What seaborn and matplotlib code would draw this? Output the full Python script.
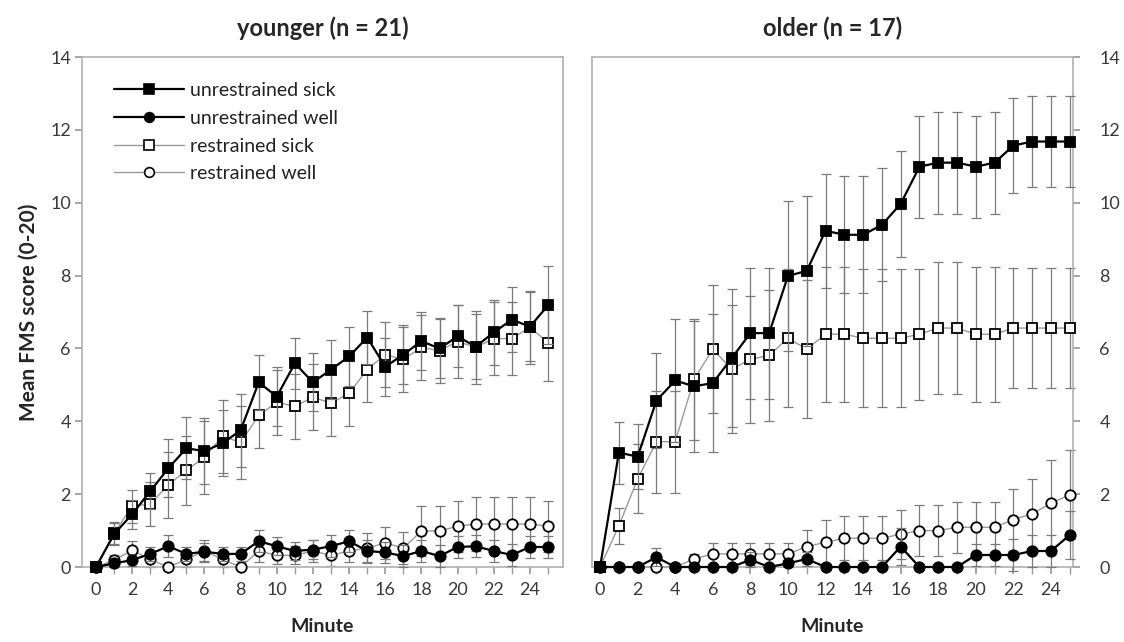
import numpy as np
import pandas as pd
import seaborn as sns
import matplotlib
matplotlib.use("Agg")
import matplotlib.pyplot as plt
from matplotlib.lines import Line2D

# ---------------- data ----------------
minutes = list(range(26))

# younger (n = 21)
y_unres_sick = [0, 0.9, 1.45, 2.08, 2.71, 3.26, 3.18, 3.4, 3.75, 5.07, 4.68, 5.59, 5.07, 5.42, 5.78, 6.3,
                5.5, 5.83, 6.2, 6.0, 6.33, 6.05, 6.44, 6.79, 6.6, 7.18]
y_unres_sick_err = [0, 0.3, 0.4, 0.5, 0.8, 0.85, 0.9, 0.9, 1.0, 0.75, 0.8, 0.7, 0.8, 0.8, 0.8, 0.74,
                    0.8, 0.8, 0.8, 0.8, 0.85, 0.9, 0.9, 0.9, 0.95, 1.07]
y_unres_well = [0, 0.1, 0.19, 0.36, 0.57, 0.36, 0.42, 0.36, 0.36, 0.71, 0.57, 0.44, 0.48, 0.57, 0.71, 0.44,
                0.4, 0.3, 0.44, 0.3, 0.55, 0.57, 0.44, 0.33, 0.55, 0.55]
y_unres_well_err = [0, 0.1, 0.15, 0.2, 0.3, 0.2, 0.25, 0.2, 0.2, 0.3, 0.25, 0.25, 0.25, 0.3, 0.3, 0.3,
                    0.3, 0.3, 0.3, 0.3, 0.3, 0.3, 0.3, 0.3, 0.3, 0.3]
y_res_sick = [0, 0.93, 1.67, 1.73, 2.25, 2.66, 3.01, 3.59, 3.42, 4.16, 4.52, 4.41, 4.66, 4.5, 4.77, 5.42,
              5.83, 5.7, 6.03, 5.94, 6.19, 6.03, 6.27, 6.27, 6.58, 6.16]
y_res_sick_err = [0, 0.3, 0.45, 0.6, 0.9, 0.95, 1.0, 1.0, 1.0, 0.9, 0.9, 0.9, 0.9, 0.9, 0.9, 0.9,
                  0.9, 0.9, 0.9, 0.9, 1.0, 1.0, 1.0, 1.0, 1.0, 1.05]
y_res_well = [0, 0.19, 0.46, 0.21, 0.0, 0.21, 0.44, 0.21, 0.0, 0.44, 0.32, 0.32, 0.44, 0.32, 0.44, 0.52,
              0.66, 0.52, 0.99, 0.99, 1.12, 1.18, 1.18, 1.18, 1.18, 1.12]
y_res_well_err = [0, 0.15, 0.25, 0.2, 0.0, 0.2, 0.3, 0.2, 0.0, 0.3, 0.25, 0.25, 0.3, 0.3, 0.3, 0.4,
                  0.45, 0.45, 0.68, 0.68, 0.7, 0.75, 0.75, 0.75, 0.75, 0.7]

# older (n = 17)
o_unres_sick = [0, 3.14, 3.03, 4.57, 5.12, 4.96, 5.05, 5.73, 6.42, 6.42, 7.99, 8.13, 9.23, 9.12, 9.12, 9.39,
                9.97, 10.99, 11.1, 11.1, 10.99, 11.1, 11.57, 11.68, 11.68, 11.68]
o_unres_sick_err = [0, 0.85, 0.9, 1.3, 1.7, 1.8, 1.9, 1.9, 1.8, 1.8, 2.05, 2.05, 1.57, 1.6, 1.6, 1.55,
                    1.45, 1.4, 1.4, 1.4, 1.4, 1.4, 1.3, 1.25, 1.25, 1.25]
o_unres_well = [0, 0, 0, 0.27, 0, 0, 0, 0, 0.2, 0, 0.1, 0.22, 0, 0, 0, 0,
                0.56, 0, 0, 0, 0.33, 0.33, 0.33, 0.44, 0.44, 0.88]
o_unres_well_err = [0, 0, 0, 0.25, 0, 0, 0, 0, 0.2, 0, 0.1, 0.2, 0, 0, 0, 0,
                    0.5, 0, 0, 0, 0.3, 0.3, 0.45, 0.45, 0.45, 0.65]
o_res_sick = [0, 1.13, 2.42, 3.44, 3.44, 5.15, 5.98, 5.43, 5.7, 5.81, 6.28, 5.98, 6.39, 6.39, 6.28, 6.28,
              6.28, 6.39, 6.56, 6.56, 6.39, 6.39, 6.56, 6.56, 6.56, 6.56]
o_res_sick_err = [0, 0.5, 0.95, 1.4, 1.4, 1.65, 1.75, 1.75, 1.75, 1.8, 1.9, 1.9, 1.85, 1.85, 1.9, 1.9,
                  1.9, 1.8, 1.8, 1.8, 1.85, 1.85, 1.65, 1.65, 1.65, 1.65]
o_res_well = [0, 0, 0, 0, 0, 0.22, 0.36, 0.36, 0.36, 0.36, 0.36, 0.56, 0.68, 0.79, 0.79, 0.79,
              0.9, 1.0, 1.0, 1.09, 1.09, 1.09, 1.3, 1.46, 1.75, 1.98]
o_res_well_err = [0, 0, 0, 0, 0, 0.15, 0.3, 0.3, 0.3, 0.3, 0.3, 0.45, 0.6, 0.6, 0.6, 0.6,
                  0.67, 0.7, 0.7, 0.7, 0.7, 0.7, 0.85, 0.95, 1.2, 1.22]

series_names = ["unrestrained sick", "unrestrained well", "restrained sick", "restrained well"]
panel_titles = ["younger (n = 21)", "older (n = 17)"]
y_ticks = list(range(0, 15, 2))
x_ticks = list(range(0, 25, 2))

# ---------------- styling ----------------
sns.set_theme(style="white")
plt.rcParams["font.family"] = ["Lato", "DejaVu Sans"]

styles = {
    "unrestrained sick": dict(color="black", lw=1.6, marker="s", mfc="black", zorder=4),
    "unrestrained well": dict(color="black", lw=1.6, marker="o", mfc="black", zorder=4),
    "restrained sick": dict(color="#9a9a9a", lw=1.0, marker="s", mfc="white", zorder=3),
    "restrained well": dict(color="#9a9a9a", lw=1.0, marker="o", mfc="white", zorder=3),
}

fig = plt.figure(figsize=(11.24, 6.42), dpi=100)
ax1 = fig.add_axes([0.0730, 0.1168, 0.4279, 0.7944])
ax2 = fig.add_axes([0.5267, 0.1168, 0.4279, 0.7944])

panels = [
    (ax1, [(y_res_sick, y_res_sick_err), (y_res_well, y_res_well_err),
           (y_unres_sick, y_unres_sick_err), (y_unres_well, y_unres_well_err)], (-0.77, 25.83)),
    (ax2, [(o_res_sick, o_res_sick_err), (o_res_well, o_res_well_err),
           (o_unres_sick, o_unres_sick_err), (o_unres_well, o_unres_well_err)], (-0.43, 25.17)),
]
order = ["restrained sick", "restrained well", "unrestrained sick", "unrestrained well"]

for ax, data, xlim in panels:
    for name, (vals, errs) in zip(order, data):
        st = styles[name]
        df = pd.DataFrame({"Minute": minutes, "score": vals})
        ax.errorbar(minutes, vals, yerr=errs, fmt="none", ecolor="#7a7a7a", elinewidth=0.9,
                    capsize=3.5, capthick=0.9, zorder=st["zorder"] - 1, clip_on=False)
        sns.lineplot(data=df, x="Minute", y="score", ax=ax, color=st["color"], lw=st["lw"],
                     marker=st["marker"], markersize=7.5, markerfacecolor=st["mfc"],
                     markeredgecolor="black", markeredgewidth=1.3, zorder=st["zorder"],
                     clip_on=False, legend=False)
    ax.set_xlim(*xlim)
    ax.set_ylim(0, 14)
    ax.set_xticks(x_ticks)
    ax.set_xticks(minutes, minor=True)
    ax.set_yticks(y_ticks)
    ax.set_xlabel("Minute", fontsize=14, fontweight="bold", labelpad=14)
    ax.set_ylabel("")
    for s in ax.spines.values():
        s.set_color("#b0b0b0")
        s.set_linewidth(1.2)
    ax.tick_params(axis="both", which="major", direction="out", length=5, color="#9a9a9a",
                   labelsize=13, labelcolor="#3a3a3a")
    ax.tick_params(axis="x", which="major", bottom=True, pad=6)
    ax.tick_params(axis="x", which="minor", direction="out", length=5, color="#9a9a9a", bottom=True)
    ax.grid(False)

ax1.set_ylabel("Mean FMS score (0-20)", fontsize=15, fontweight="bold", labelpad=8)
ax1.tick_params(axis="y", left=True, pad=3)
ax2.yaxis.tick_right()
ax2.tick_params(axis="y", right=True, left=False, labelright=True, labelleft=False, pad=14)

ax1.set_title(panel_titles[0], fontsize=17, fontweight="bold", pad=15)
ax2.set_title(panel_titles[1], fontsize=17, fontweight="bold", pad=15)

handles = []
for name in series_names:
    st = styles[name]
    handles.append(Line2D([0], [0], color=st["color"], lw=st["lw"], marker=st["marker"],
                          markersize=7, markerfacecolor=st["mfc"], markeredgecolor="black",
                          markeredgewidth=1.2, label=name))
ax1.legend(handles=handles, loc="upper left", bbox_to_anchor=(0.03, 0.985), frameon=False,
           fontsize=14, handlelength=3.6, handletextpad=0.3, labelspacing=0.55,
           labelcolor="#222222")

fig.savefig("out.png", dpi=100)
